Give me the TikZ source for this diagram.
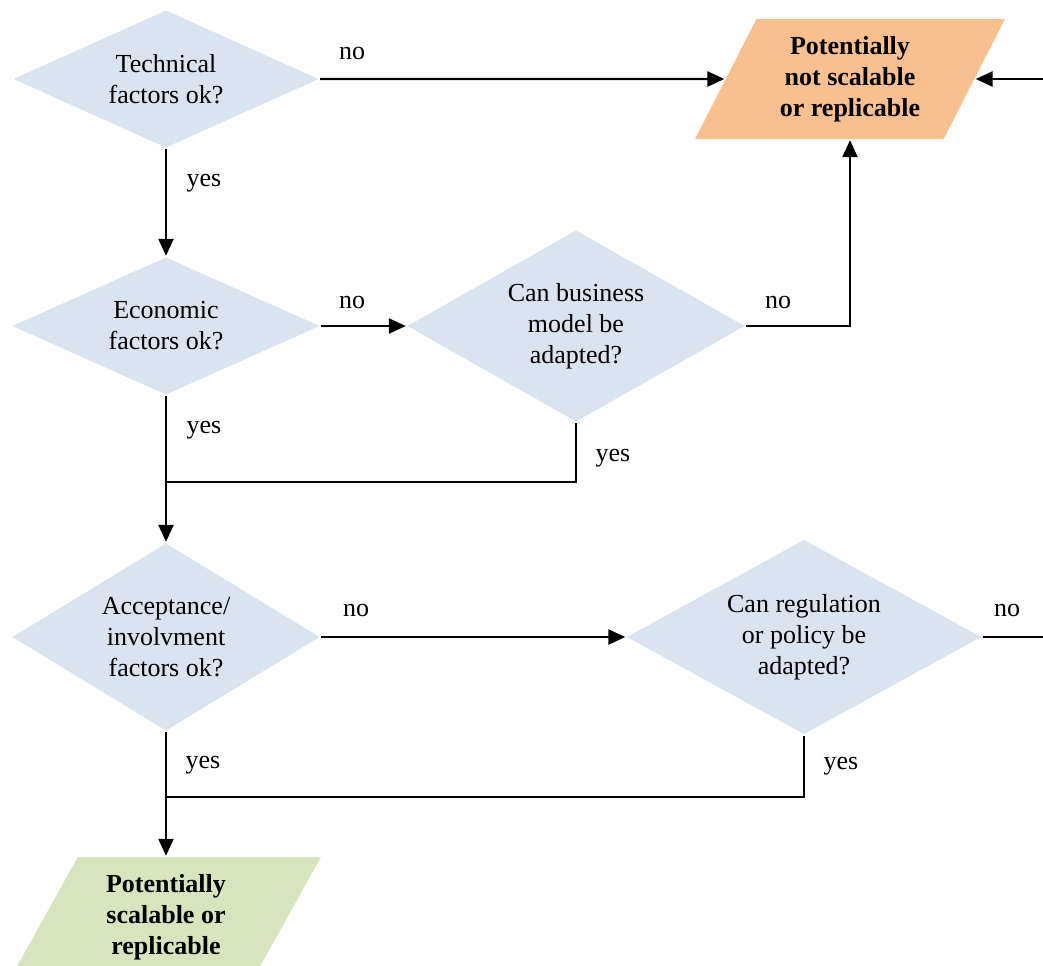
\documentclass[tikz,border=0pt]{standalone}
\usepackage{fontspec}
\setmainfont{Liberation Serif}
\usetikzlibrary{arrows.meta}
\usetikzlibrary{shapes.geometric}
\usetikzlibrary{positioning}
\definecolor{qblue}{HTML}{DAE3F0}
\definecolor{qorange}{HTML}{F8C08E}
\definecolor{qgreen}{HTML}{D7E4BD}

\begin{document}
\begin{tikzpicture}[x=0.5pt,y=-0.5pt,->,>={Triangle[length=8.5pt,width=7.5pt]},line width=1.2pt,
	font=\fontsize{13}{15.5}\selectfont,
	decision/.style={diamond,fill=qblue,draw=none,align=center,inner sep=0pt,aspect=1.8},
	result/.style={trapezium,trapezium left angle=63,trapezium right angle=117,trapezium stretches=true,
		draw=none,align=center,font=\fontsize{13}{15.5}\selectfont\bfseries,minimum width=155pt,minimum height=60pt},
	lbl/.style={inner sep=0pt}]
	\useasboundingbox (0,0) rectangle (1043,965);
	\clip (0,0) rectangle (1043,965);

	\node[decision,minimum width=153pt,minimum height=69pt] (tech) at (166,79) {Technical\\factors ok?};
	\node[decision,minimum width=154pt,minimum height=69pt] (econ) at (166,326) {Economic\\factors ok?};
	\node[decision,minimum width=169pt,minimum height=96pt] (biz) at (576,326) {Can business\\model be\\adapted?};
	\node[decision,minimum width=154pt,minimum height=94pt] (accept) at (166,637) {Acceptance/\\involvment\\factors ok?};
	\node[decision,minimum width=177.5pt,minimum height=97.5pt] (reg) at (804,637) {Can regulation\\or policy be\\adapted?};
	\node[result,fill=qorange] (notok) at (850,79) {Potentially\\not scalable\\or replicable};
	\node[result,fill=qgreen] (ok) at (166,917) {Potentially\\scalable or\\replicable};

	\coordinate (join1) at (166,482);
	\coordinate (join2) at (166,797);
	\coordinate (offpage) at (1080,637);

	\draw (tech) -- (notok);
	\draw (tech) -- (econ);
	\draw (econ) -- (biz);
	\draw (biz.east) -| (notok.center |- notok.south);
	\draw (econ) -- (accept);
	\draw[-] (biz.south) |- (join1);
	\draw (accept) -- (reg);
	\draw (reg.east) -- (offpage) |- (notok);
	\draw (accept) -- (ok);
	\draw[-] (reg.south) |- (join2);

	\node[lbl] (no1) at (352,53) {no};
	\node[lbl] (yes1) at (204,183) {yes};
	\node[lbl] (no2) at (352,302) {no};
	\node[lbl] (no3) at (778,302) {no};
	\node[lbl] (yes2) at (204,430) {yes};
	\node[lbl] (yes3) at (613,458) {yes};
	\node[lbl] (no4) at (356,610) {no};
	\node[lbl] (no5) at (1007,610) {no};
	\node[lbl] (yes4) at (203,765) {yes};
	\node[lbl] (yes5) at (841,766) {yes};
\end{tikzpicture}
\end{document}
